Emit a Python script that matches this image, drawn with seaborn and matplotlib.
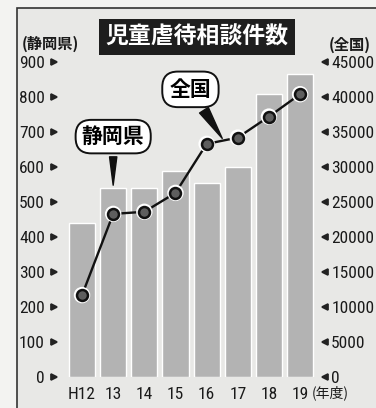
import matplotlib
matplotlib.use('Agg')
import matplotlib.pyplot as plt
from matplotlib import font_manager as fm
import seaborn as sns
import numpy as np
import pandas as pd
from matplotlib.patches import Rectangle

# ---- data ----
years = ['H12', '13', '14', '15', '16', '17', '18', '19']
shizuoka = [440, 540, 540, 590, 555, 600, 810, 865]          # left axis (bars)
national = [11700, 23300, 23600, 26300, 33300, 34200, 37200, 40400]  # right axis (line)
left_ticks = [0, 100, 200, 300, 400, 500, 600, 700, 800, 900]
right_ticks = [0, 5000, 10000, 15000, 20000, 25000, 30000, 35000, 40000, 45000]
title = '児童虐待相談件数'
left_unit = '(静岡県)'
right_unit = '(全国)'
x_unit = '(年度)'

sns.set_theme(style='white')

# pick a condensed sans for the numbers, if any is installed
num_font = None
for cand in ['Roboto Condensed', 'Liberation Sans Narrow', 'Archivo Narrow',
             'PT Sans Narrow', 'Fira Sans Condensed', 'IBM Plex Sans Condensed',
             'Open Sans Condensed', 'Encode Sans Condensed']:
    try:
        fm.findfont(fm.FontProperties(family=cand), fallback_to_default=False)
        num_font = cand
        break
    except Exception:
        pass
if num_font:
    plt.rcParams['font.family'] = [num_font, 'DejaVu Sans']
    NUM_SIZE = 12.5
else:
    plt.rcParams['font.family'] = ['Roboto', 'DejaVu Sans']
    NUM_SIZE = 10
CJK = ['Noto Sans CJK JP', 'DejaVu Sans']
TXT = '#1a1a1a'

fig = plt.figure(figsize=(3.76, 4.08), dpi=100)
fig.patch.set_facecolor('#f3f3f1')
fig.patches.append(Rectangle((17 / 376, -0.01), 1.0, 1.01 - 8 / 408,
                             transform=fig.transFigure, facecolor='#e8e8e6',
                             edgecolor='#333333', lw=1.2, zorder=-5))

ax = fig.add_axes([54 / 376, 31 / 408, 271 / 376, 315 / 408])
ax.patch.set_alpha(0)
df = pd.DataFrame({'year': years, 'shizuoka': shizuoka, 'national': national})
sns.barplot(data=df, x='year', y='shizuoka', color='#b3b3b3', saturation=1,
            width=0.84, ax=ax)

ax2 = ax.twinx()
pos = np.arange(len(years))
sns.lineplot(x=pos, y=national, ax=ax2, color='#111111', lw=1.7, zorder=2)
sns.scatterplot(x=pos, y=national, ax=ax2, s=140, color='white',
                edgecolor='none', zorder=3)
sns.scatterplot(x=pos, y=national, ax=ax2, s=62, color='#5e5e5e',
                edgecolor='#111111', linewidth=1.8, zorder=4)

for a in (ax, ax2):
    a.set_xlim(-0.9, 7.8)
    for s in a.spines.values():
        s.set_visible(False)
    a.grid(False)
ax.set_ylim(0, 900)
ax2.set_ylim(0, 45000)
ax.set_xlabel('')
ax.set_ylabel('')
ax2.set_ylabel('')

ax.set_yticks(left_ticks)
ax.set_yticklabels([str(v) for v in left_ticks])
ax2.set_yticks(right_ticks)
ax2.set_yticklabels([str(v) for v in right_ticks])
ax.set_xticks(pos)
ax.set_xticklabels(years)

ax.tick_params(axis='y', which='both', left=True, length=4, pad=2.5,
               labelsize=NUM_SIZE, labelcolor=TXT, color='#222222')
ax2.tick_params(axis='y', which='both', right=True, length=3, pad=1.5,
                labelsize=NUM_SIZE, labelcolor=TXT, color='#222222')
ax.tick_params(axis='x', length=0, pad=7, labelsize=NUM_SIZE, labelcolor=TXT)
ax2.tick_params(axis='x', length=0)

for t in ax.yaxis.get_major_ticks():
    t.tick1line.set_marker('>')
    t.tick1line.set_markersize(4.5)
    t.tick1line.set_color('#222222')
for t in ax2.yaxis.get_major_ticks():
    t.tick2line.set_marker('<')
    t.tick2line.set_markersize(4.5)
    t.tick2line.set_color('#222222')

# title
fig.text(197 / 376, 1 - 37 / 408, title, ha='center', va='center',
         fontsize=16.5, fontweight='bold', color='white', family=CJK,
         bbox=dict(boxstyle='square,pad=0.3', fc='#1e1e1e', ec='none'))
fig.text(50 / 376, 1 - 44 / 408, left_unit, ha='center', va='center',
         fontsize=11, fontweight='bold', color=TXT, family=CJK)
fig.text(350 / 376, 1 - 45 / 408, right_unit, ha='center', va='center',
         fontsize=11, fontweight='bold', color=TXT, family=CJK)
fig.text(330 / 376, 1 - 393 / 408, x_unit, ha='center', va='center',
         fontsize=10, color=TXT, family=CJK)

# callouts
mid_x = 4.55
mid_y = (national[4] + national[5]) / 2
ax2.annotate('全国', xy=(mid_x, mid_y), xytext=(-24, 37),
             textcoords='offset points', ha='center', va='center',
             fontsize=15, fontweight='bold', color='black', family=CJK,
             bbox=dict(boxstyle='round,pad=0.35,rounding_size=0.75', fc='white',
                       ec='#111111', lw=1.4),
             arrowprops=dict(arrowstyle='wedge,tail_width=0.5,shrink_factor=0.5',
                             fc='#111111', ec='#111111', shrinkB=2),
             zorder=6)
ax2.annotate('静岡県', xy=(1, shizuoka[1]), xycoords=ax.transData,
             xytext=(0, 37), textcoords='offset points', ha='center', va='center',
             fontsize=15, fontweight='bold', color='black', family=CJK,
             bbox=dict(boxstyle='round,pad=0.3,rounding_size=0.75', fc='white',
                       ec='#111111', lw=1.4),
             arrowprops=dict(arrowstyle='wedge,tail_width=0.35,shrink_factor=0.5',
                             fc='#111111', ec='#111111', shrinkB=2),
             zorder=6)

fig.savefig('out.png', dpi=100, facecolor=fig.get_facecolor())
